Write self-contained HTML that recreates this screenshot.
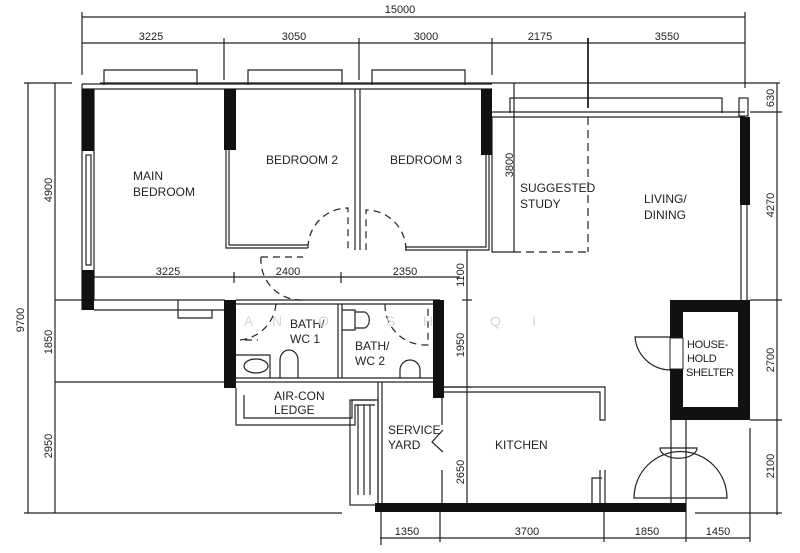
<!DOCTYPE html>
<html><head><meta charset="utf-8"><style>
html,body{margin:0;padding:0;background:#fff}
svg{display:block}
text{font-family:"Liberation Sans",sans-serif;fill:#222}
.d{font-size:11px}
.l{font-size:12px}
</style></head><body>
<svg width="800" height="553" viewBox="0 0 800 553" xmlns="http://www.w3.org/2000/svg">
<g stroke="#222" stroke-width="1.2" fill="none">
<line x1="82" y1="17" x2="745" y2="17"/>
<line x1="82" y1="43" x2="745" y2="43"/>
<line x1="82" y1="12" x2="82" y2="75"/>
<line x1="224" y1="38" x2="224" y2="80"/>
<line x1="359" y1="38" x2="359" y2="80"/>
<line x1="492" y1="38" x2="492" y2="75"/>
<line x1="588" y1="38" x2="588" y2="108" stroke-width="1.8"/>
<line x1="745" y1="12" x2="745" y2="88"/>
<line x1="100" y1="83" x2="780" y2="83"/>
<line x1="514" y1="83" x2="514" y2="252"/>
<line x1="777" y1="83" x2="777" y2="515"/>
<line x1="750" y1="112" x2="782" y2="112"/>
<line x1="750" y1="300" x2="782" y2="300"/>
<line x1="750" y1="420" x2="782" y2="420"/>
<line x1="695" y1="513" x2="782" y2="513"/>
<line x1="750" y1="428" x2="750" y2="542"/>
<line x1="28" y1="83" x2="28" y2="513"/>
<line x1="55" y1="83" x2="55" y2="513"/>
<line x1="24" y1="83" x2="72" y2="83"/>
<line x1="55" y1="300" x2="82" y2="300"/>
<line x1="55" y1="382" x2="225" y2="382"/>
<line x1="24" y1="513" x2="342" y2="513"/>
<line x1="94" y1="277" x2="460" y2="277"/>
<line x1="234" y1="272" x2="234" y2="283"/>
<line x1="341" y1="272" x2="341" y2="283"/>
<line x1="467" y1="250" x2="467" y2="505"/>
<line x1="462" y1="300" x2="472" y2="300"/>
<line x1="444" y1="387" x2="472" y2="387"/>
<line x1="380" y1="538" x2="750" y2="538"/>
<line x1="440" y1="512" x2="440" y2="542"/>
<line x1="604" y1="505" x2="604" y2="542"/>
<line x1="686" y1="505" x2="686" y2="542"/>
<line x1="381" y1="512" x2="381" y2="545"/>
<path d="M104 85V70H197V85M248 85V70H342V85M372 85V70H465V85"/>
<path d="M510 113V98H722V113"/>
<line x1="82" y1="84" x2="492" y2="84"/>
<line x1="82" y1="89" x2="492" y2="89"/>
<line x1="492" y1="112" x2="745" y2="112"/>
<line x1="492" y1="117" x2="745" y2="117"/>
<rect x="739" y="98" width="9" height="18"/>
<line x1="82" y1="84" x2="82" y2="310"/>
<line x1="94" y1="89" x2="94" y2="300"/>
<rect x="86" y="155" width="5" height="110"/>
<line x1="82" y1="300" x2="225" y2="300"/>
<line x1="94" y1="310" x2="225" y2="310"/>
<path d="M178 300V318H212V310"/>
<path d="M226 150V248H308"/><path d="M229 150V245H308"/>
<line x1="355" y1="89" x2="355" y2="250"/><line x1="360" y1="89" x2="360" y2="250"/>
<path d="M489 155V250H405"/><path d="M486 155V247H405"/>
<path d="M492 117V252H513"/>
<line x1="588" y1="117" x2="588" y2="252" stroke-dasharray="8,5"/>
<line x1="513" y1="252" x2="588" y2="252" stroke-dasharray="8,5"/>
<path d="M308 248A40 40 0 0 1 348 208V250" stroke-dasharray="7,5"/>
<path d="M406 250A40 40 0 0 0 366 210V250" stroke-dasharray="7,5"/>
<path d="M261 257H303M261 257A40 40 0 0 0 303 300" stroke-dasharray="7,5"/>
<line x1="741" y1="205" x2="741" y2="300"/><line x1="747" y1="205" x2="747" y2="300"/>
<line x1="236" y1="300" x2="440" y2="300"/><line x1="236" y1="304" x2="440" y2="304"/>
<line x1="236" y1="378" x2="440" y2="378"/><line x1="236" y1="382" x2="440" y2="382"/>
<line x1="338" y1="304" x2="338" y2="378"/><line x1="342" y1="304" x2="342" y2="378"/>
<path d="M276 304A40 40 0 0 1 240 340H258" stroke-dasharray="7,5"/>
<path d="M385 304A40 40 0 0 0 425 345H428V304" stroke-dasharray="7,5"/>
<ellipse cx="256" cy="366" rx="12" ry="7"/>
<path d="M236 355H270V378"/>
<path d="M280 378V360A9 10 0 0 1 298 360V378"/>
<path d="M342 310H355V330H342M355 312H365A8 9 0 0 1 365 328H355"/>
<path d="M400 378V370A10 10 0 0 1 420 370V378"/>
<path d="M236 388V425H355V405H375"/>
<path d="M244 395V418H352V400H375"/>
<rect x="350" y="400" width="28" height="105"/>
<line x1="358" y1="405" x2="358" y2="495"/><line x1="364" y1="405" x2="364" y2="495"/><line x1="370" y1="405" x2="370" y2="495"/>
<line x1="378" y1="382" x2="378" y2="505"/>
<line x1="382" y1="382" x2="382" y2="505"/>
<line x1="442" y1="398" x2="442" y2="425"/>
<path d="M443 430L432 442L443 452"/>
<line x1="442" y1="470" x2="442" y2="505"/>
<path d="M444 387H605V420H600V392H444"/>
<path d="M605 470V505M600 470V505M592 505V478H602"/>
<path d="M670 337H635A36 36 0 0 0 670 370"/>
<line x1="671" y1="420" x2="671" y2="505"/>
<line x1="686" y1="420" x2="686" y2="505"/>
<path d="M634 498A46 46 0 0 1 727 498Z"/>
<path d="M660 448H697A18 10 0 0 1 660 448Z"/>
</g>
<g fill="#111">
<rect x="82" y="89" width="12" height="62"/>
<rect x="82" y="270" width="12" height="40"/>
<rect x="224" y="89" width="12" height="61"/>
<rect x="481" y="89" width="11" height="66"/>
<rect x="740" y="117" width="10" height="88"/>
<rect x="224" y="300" width="12" height="88"/>
<rect x="433" y="300" width="11" height="98"/>
<rect x="375" y="503" width="311" height="9"/>
<path d="M670 300H750V420H670ZM683 312V407H738V312Z" fill-rule="evenodd"/>
</g>
<rect x="670" y="338" width="13" height="31" fill="#fff" stroke="#222"/>
<g class="d" text-anchor="middle">
<text x="400" y="13">15000</text>
<text x="151" y="40">3225</text>
<text x="294" y="40">3050</text>
<text x="426" y="40">3000</text>
<text x="540" y="40">2175</text>
<text x="667" y="40">3550</text>
<text x="168" y="275">3225</text>
<text x="288" y="275">2400</text>
<text x="405" y="275">2350</text>
<text x="407" y="535">1350</text>
<text x="527" y="535">3700</text>
<text x="647" y="535">1850</text>
<text x="718" y="535">1450</text>
<text transform="translate(24,320) rotate(-90)">9700</text>
<text transform="translate(52,190) rotate(-90)">4900</text>
<text transform="translate(52,342) rotate(-90)">1850</text>
<text transform="translate(52,446) rotate(-90)">2950</text>
<text transform="translate(513,165) rotate(-90)">3800</text>
<text transform="translate(464,275) rotate(-90)">1100</text>
<text transform="translate(464,345) rotate(-90)">1950</text>
<text transform="translate(464,472) rotate(-90)">2650</text>
<text transform="translate(774,98) rotate(-90)">630</text>
<text transform="translate(774,205) rotate(-90)">4270</text>
<text transform="translate(774,360) rotate(-90)">2700</text>
<text transform="translate(774,466) rotate(-90)">2100</text>
</g>
<g class="l">
<text x="133" y="180">MAIN</text><text x="133" y="196">BEDROOM</text>
<text x="266" y="164">BEDROOM  2</text>
<text x="390" y="164">BEDROOM  3</text>
<text x="520" y="192">SUGGESTED</text><text x="520" y="208">STUDY</text>
<text x="644" y="203">LIVING/</text><text x="644" y="219">DINING</text>
<text x="290" y="328">BATH/</text><text x="290" y="343">WC  1</text>
<text x="355" y="350">BATH/</text><text x="355" y="365">WC  2</text>
<text x="274" y="400">AIR-CON</text><text x="274" y="414">LEDGE</text>
<text x="388" y="434">SERVICE</text><text x="388" y="449">YARD</text>
<text x="495" y="449">KITCHEN</text>
</g>
<g font-size="11" style="letter-spacing:-0.3px">
<text x="687" y="348">HOUSE-</text><text x="687" y="362">HOLD</text><text x="686" y="376">SHELTER</text>
</g>
<g font-size="14">
<text x="244" y="326" style="fill:#d5d5d5">A</text><text x="272" y="326" style="fill:#d5d5d5">N</text><text x="318" y="326" style="fill:#d5d5d5">O</text><text x="386" y="326" style="fill:#d5d5d5">S</text><text x="423" y="326" style="fill:#d5d5d5">H</text><text x="490" y="326" style="fill:#d5d5d5">Q</text><text x="532" y="326" style="fill:#d5d5d5">I</text>
</g>
</svg>
</body></html>
